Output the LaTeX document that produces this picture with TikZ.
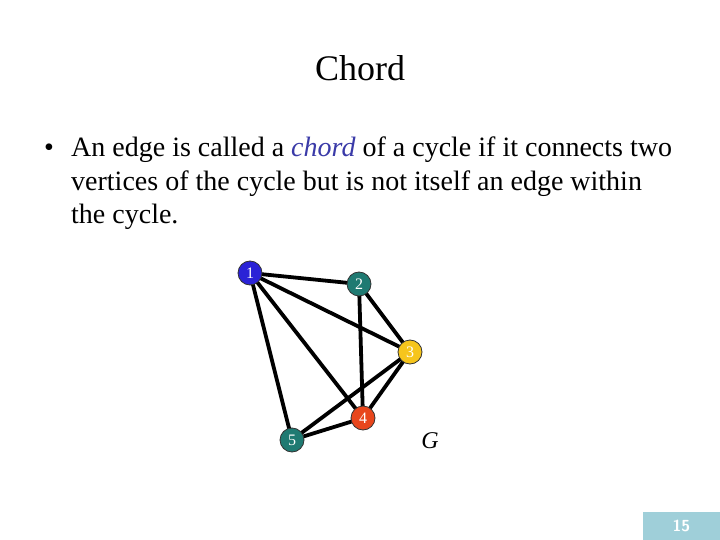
\documentclass[tikz,border=0pt]{standalone}
\usepackage{fontspec}
\setmainfont{Liberation Serif}
\usepackage{xcolor}
\usetikzlibrary{backgrounds}
\definecolor{vblue}{HTML}{2A22D6}
\definecolor{vteal}{HTML}{1F7A72}
\definecolor{vgold}{HTML}{F6C51C}
\definecolor{vred}{HTML}{E8461C}
\definecolor{chordblue}{HTML}{3A3AA8}
\definecolor{pagebox}{HTML}{9FCFD9}

\begin{document}
\begin{tikzpicture}[x=1pt,y=-1pt,line cap=round,
  vertex/.style={circle,draw=black!80,line width=0.8pt,inner sep=0pt,minimum size=24pt,
    text=white,font=\fontsize{16}{16}\selectfont},
  edge/.style={line width=3.8pt,black},
  bodytext/.style={anchor=base west,inner sep=0pt,font=\fontsize{28}{28}\selectfont}]
\useasboundingbox (0,0) rectangle (720,540);
% title
\node[font=\fontsize{36}{36}\selectfont] (title) at (360,68) {Chord};
% text
\node[bodytext] (bullet) at (44,157) {\textbullet};
\node[bodytext] (line1) at (71,157) {An edge is called a \textcolor{chordblue}{\textit{chord}} of a cycle if it connects two};
\node[bodytext] (line2) at (71,191) {vertices of the cycle but is not itself an edge within};
\node[bodytext] (line3) at (71,224) {the cycle.};
% graph
\node[vertex,fill=vblue] (v1) at (250,273) {1};
\node[vertex,fill=vteal] (v2) at (359,284) {2};
\node[vertex,fill=vgold] (v3) at (410,352) {3};
\node[vertex,fill=vred] (v4) at (363,418) {4};
\node[vertex,fill=vteal] (v5) at (292,440) {5};
\begin{scope}[on background layer]
\foreach \a/\b in {1/2,1/3,1/4,1/5,2/3,2/4,3/4,3/5,4/5}
  \draw[edge] (v\a.center) -- (v\b.center);
\end{scope}
\node[font=\fontsize{24}{24}\selectfont\itshape] (glabel) at (430,441) {G};
% page number
\node[fill=pagebox,minimum width=77pt,minimum height=28pt,inner sep=0pt,anchor=south east,
  text=white,font=\sffamily\bfseries\fontsize{16}{16}\selectfont] (page) at (720,540) {15};
\end{tikzpicture}
\end{document}
